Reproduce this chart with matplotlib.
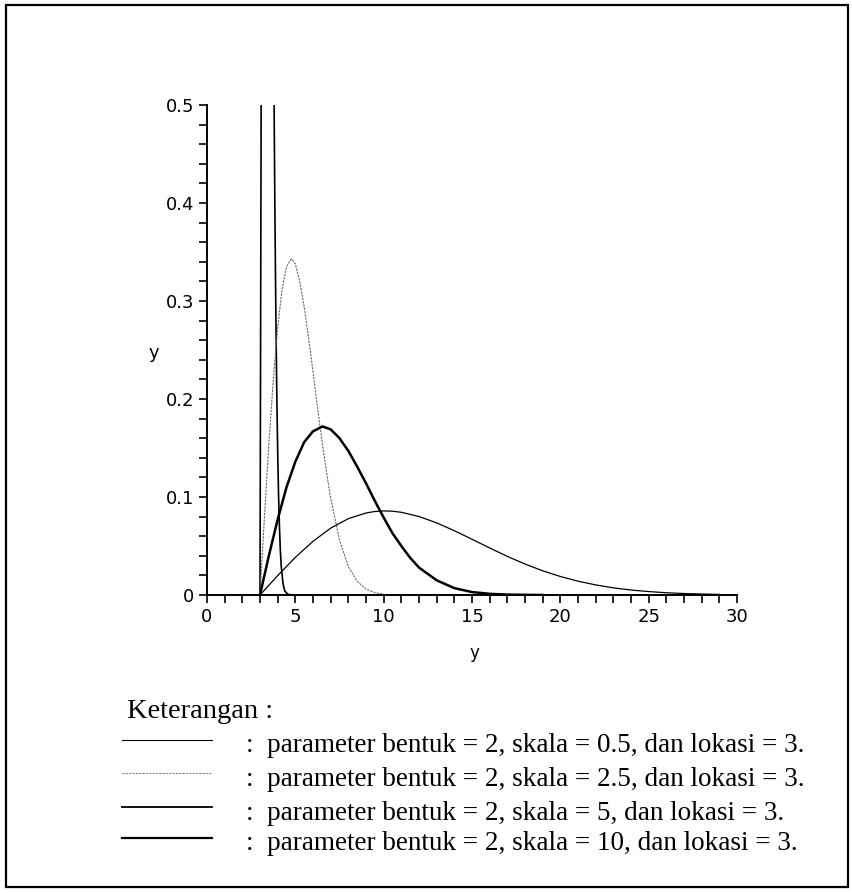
import matplotlib
matplotlib.use("Agg")
import matplotlib.pyplot as plt
from matplotlib.patches import Rectangle
from matplotlib.ticker import MultipleLocator

# values (Weibull-like curves, location 3)
x_s05 = [3.0, 3.1, 3.7, 3.8, 3.85, 3.9, 3.95, 4.0, 4.05, 4.1, 4.15, 4.2, 4.3, 4.4, 4.6, 5.0]
y_s05 = [0.0, 0.769, 0.789, 0.495, 0.378, 0.282, 0.206, 0.147, 0.102, 0.070,
         0.046, 0.030, 0.012, 0.004, 0.0005, 0.0]

x_s25 = [3.0, 3.25, 3.5, 3.75, 4.0, 4.25, 4.5, 4.77, 5.0, 5.25, 5.5, 5.75, 6.0,
         6.25, 6.5, 6.75, 7.0, 7.5, 8.0, 8.5, 9.0, 9.5, 10.0]
y_s25 = [0.0, 0.079, 0.154, 0.219, 0.273, 0.312, 0.335, 0.343, 0.338, 0.320,
         0.294, 0.262, 0.228, 0.192, 0.158, 0.127, 0.099, 0.056, 0.029, 0.014,
         0.006, 0.0024, 0.0009]

x_s5 = [3.0, 3.5, 4.0, 4.5, 5.0, 5.5, 6.0, 6.54, 7.0, 7.5, 8.0, 8.5, 9.0, 9.5,
        10.0, 10.5, 11.0, 11.5, 12.0, 13.0, 14.0, 15.0, 16.0, 17.0, 19.0]
y_s5 = [0.0, 0.040, 0.077, 0.110, 0.136, 0.156, 0.167, 0.172, 0.169, 0.160,
        0.147, 0.131, 0.114, 0.096, 0.079, 0.063, 0.050, 0.038, 0.028, 0.015,
        0.007, 0.003, 0.0012, 0.0004, 0.0]

x_s10 = [3, 4, 5, 6, 7, 8, 9, 9.5, 10, 10.5, 11, 12, 13, 14, 15, 16, 17, 18, 19,
         20, 21, 22, 23, 24, 25, 26, 27, 28, 29]
y_s10 = [0.0, 0.0198, 0.0384, 0.0548, 0.0682, 0.0779, 0.0837, 0.0852, 0.0858,
         0.0855, 0.0844, 0.0801, 0.0736, 0.0656, 0.0569, 0.0480, 0.0394, 0.0316,
         0.0247, 0.0189, 0.0141, 0.0103, 0.0073, 0.0051, 0.0035, 0.0023, 0.0015,
         0.0010, 0.0006]

x_ticks = [0, 5, 10, 15, 20, 25, 30]
y_ticks = [0, 0.1, 0.2, 0.3, 0.4, 0.5]
y_tick_labels = ["0", "0.1", "0.2", "0.3", "0.4", "0.5"]

legend_texts = [
    ":  parameter bentuk = 2, skala = 0.5, dan lokasi = 3.",
    ":  parameter bentuk = 2, skala = 2.5, dan lokasi = 3.",
    ":  parameter bentuk = 2, skala = 5, dan lokasi = 3.",
    ":  parameter bentuk = 2, skala = 10, dan lokasi = 3.",
]

W, H = 853, 893
fig = plt.figure(figsize=(W / 100, H / 100), dpi=100)
fig.patch.set_facecolor("white")

# outer frame
fig.patches.append(Rectangle((6 / W, 1 - 887 / H), 842 / W, 882 / H,
                             transform=fig.transFigure, fill=False,
                             edgecolor="black", linewidth=1.6))

ax = fig.add_axes([207 / W, 1 - 595 / H, 530 / W, 490 / H])
styles = [
    dict(color="black", lw=1.2),
    dict(color="#666666", lw=0.8, ls=(0, (2, 1))),
    dict(color="black", lw=1.8),
    dict(color="black", lw=0.9),
]
for xs, ys, st in zip([x_s05, x_s25, x_s5, x_s10],
                      [y_s05, y_s25, y_s5, y_s10], styles):
    ax.plot(xs, ys, **st)

ax.set_xlim(0, 30)
ax.set_ylim(0, 0.5)
for s in ["top", "right"]:
    ax.spines[s].set_visible(False)
for s in ["left", "bottom"]:
    ax.spines[s].set_linewidth(1.4)
ax.set_xticks(x_ticks)
ax.set_yticks(y_ticks)
ax.set_yticklabels(y_tick_labels)
ax.xaxis.set_minor_locator(MultipleLocator(1))
ax.yaxis.set_minor_locator(MultipleLocator(0.02))
ax.tick_params(which="both", direction="out", length=5.5, width=1.2,
               labelsize=13, pad=3.5)
for lab in ax.get_xticklabels() + ax.get_yticklabels():
    lab.set_fontfamily("DejaVu Sans")
ax.set_xlabel("y", fontsize=12, family="DejaVu Sans", va="center")
ax.xaxis.set_label_coords(0.504, -0.118)
ax.set_ylabel("y", fontsize=13, family="DejaVu Sans", rotation=0,
              va="center", ha="center")
ax.yaxis.set_label_coords(-0.1, 0.494)

# legend block
fig.text(127 / W, 1 - 712 / H, "Keterangan :", fontsize=20.5,
         family="Liberation Serif", va="center", ha="left")
leg_y = [740, 773, 807, 838]
leg_styles = [
    dict(color="black", lw=0.8),
    dict(color="#888888", lw=0.8, ls=(0, (2, 1))),
    dict(color="black", lw=1.3),
    dict(color="black", lw=1.6),
]
for yy, txt, st in zip(leg_y, legend_texts, leg_styles):
    fig.add_artist(plt.Line2D([122 / W, 212 / W], [1 - yy / H, 1 - yy / H],
                              transform=fig.transFigure, **st))
    fig.text(246 / W, 1 - (yy + 6) / H, txt, fontsize=19.5,
             family="Liberation Serif", va="center", ha="left")

fig.savefig("out.png", dpi=100)
